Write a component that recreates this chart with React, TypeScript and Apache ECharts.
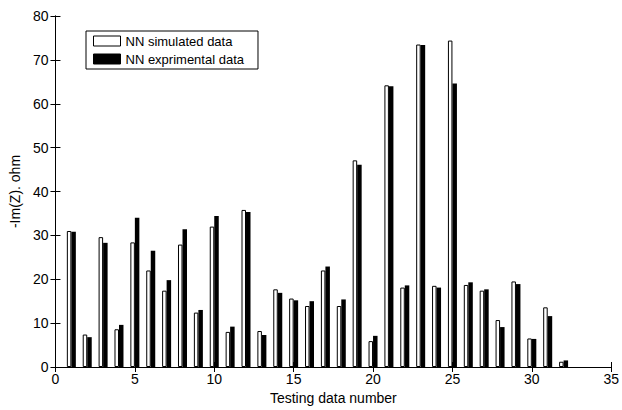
import React, { useEffect, useRef } from "react";
import * as echarts from "echarts";

const testNumbers = [1,2,3,4,5,6,7,8,9,10,11,12,13,14,15,16,17,18,19,20,21,22,23,24,25,26,27,28,29,30,31,32];
const simulated = [31.0,7.4,29.6,8.6,28.4,22.0,17.4,27.9,12.4,32.0,8.0,35.8,8.2,17.7,15.6,13.9,22.0,13.9,47.1,5.9,64.2,18.1,73.5,18.5,74.4,18.7,17.4,10.7,19.5,6.5,13.6,1.2];
const experimental = [30.8,6.8,28.3,9.6,34.0,26.5,19.8,31.4,13.0,34.4,9.2,35.3,7.3,16.9,15.2,15.0,22.9,15.4,46.1,7.1,64.0,18.6,73.4,18.1,64.6,19.3,17.7,9.1,18.9,6.4,11.6,1.5];
const seriesNames = ["NN simulated data", "NN exprimental data"];
const xTitle = "Testing data number";
const yTitle = "-Im(Z). ohm";

const FONT = "Liberation Sans, Arial, sans-serif";

export default function App() {
  const ref = useRef<HTMLDivElement>(null);
  useEffect(() => {
    if (!ref.current) return;
    const chart = echarts.init(ref.current, null, { renderer: "svg" });
    const axisLine = { show: true, lineStyle: { color: "#000", width: 1 } };
    const tick = { show: true, inside: true, length: 5, lineStyle: { color: "#000" } };
    chart.setOption({
      animation: false,
      backgroundColor: "#fff",
      textStyle: { fontFamily: FONT },
      grid: { left: 52, right: 5, top: 16, bottom: 39, containLabel: false },
      legend: {
        orient: "vertical",
        left: 86,
        top: 31,
        padding: [3, 14, 3, 7],
        itemGap: 4,
        itemWidth: 27,
        itemHeight: 10,
        borderColor: "#000",
        borderWidth: 1,
        backgroundColor: "#fff",
        textStyle: { fontFamily: FONT, fontSize: 13, color: "#000", lineHeight: 14 },
        data: [
          { name: seriesNames[0], icon: "rect", itemStyle: { color: "#fff", borderColor: "#000", borderWidth: 1 } },
          { name: seriesNames[1], icon: "rect", itemStyle: { color: "#000", borderColor: "#000", borderWidth: 1 } },
        ],
      },
      xAxis: [
        {
          type: "value",
          min: 0,
          max: 35,
          interval: 5,
          name: xTitle,
          nameLocation: "middle",
          nameGap: 24,
          nameTextStyle: { fontFamily: FONT, fontSize: 14, color: "#000" },
          axisLine,
          axisTick: tick,
          axisLabel: { color: "#000", fontSize: 14, fontFamily: FONT, margin: 5 },
          splitLine: { show: false },
        },
        {
          type: "value",
          position: "top",
          min: 0,
          max: 35,
          interval: 5,
          axisLine,
          axisTick: tick,
          axisLabel: { show: false },
          splitLine: { show: false },
        },
      ],
      yAxis: [
        {
          type: "value",
          min: 0,
          max: 80,
          interval: 10,
          name: yTitle,
          nameLocation: "middle",
          nameGap: 33,
          nameTextStyle: { fontFamily: FONT, fontSize: 14, color: "#000" },
          axisLine,
          axisTick: tick,
          axisLabel: { color: "#000", fontSize: 14, fontFamily: FONT, margin: 7 },
          splitLine: { show: false },
        },
        {
          type: "value",
          position: "right",
          min: 0,
          max: 80,
          interval: 10,
          axisLine,
          axisTick: tick,
          axisLabel: { show: false },
          splitLine: { show: false },
        },
      ],
      series: [
        {
          name: seriesNames[0],
          type: "bar",
          barWidth: 4.5,
          barGap: "0%",
          data: testNumbers.map((n, i) => [n, simulated[i]]),
          itemStyle: { color: "#fff", borderColor: "#000", borderWidth: 1 },
        },
        {
          name: seriesNames[1],
          type: "bar",
          barWidth: 4.5,
          barGap: "0%",
          data: testNumbers.map((n, i) => [n, experimental[i]]),
          itemStyle: { color: "#000", borderColor: "#000", borderWidth: 0 },
        },
      ],
    });
    return () => chart.dispose();
  }, []);
  return <div ref={ref} style={{ width: 622, height: 410, position: "absolute", left: 0, top: 0 }} />;
}
